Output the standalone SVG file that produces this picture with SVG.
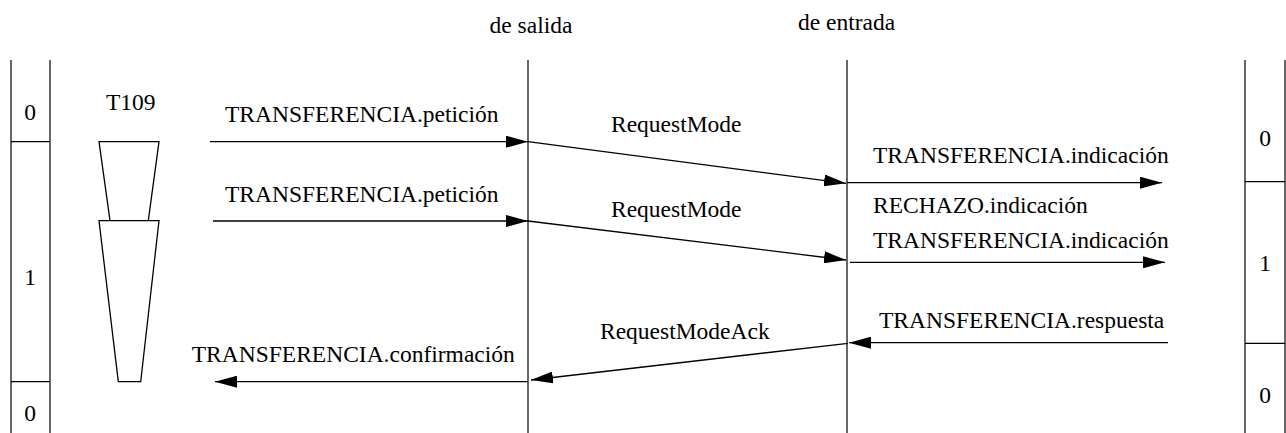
<svg xmlns="http://www.w3.org/2000/svg" width="1286" height="433" viewBox="0 0 1286 433">
<style>
text{font-family:"Times New Roman",Times,Tinos,"Noto Serif","Liberation Serif",serif;font-size:23.5px;fill:#000}
.ln{stroke:#000;stroke-width:1.2;fill:none}
.ar{stroke:#000;stroke-width:1.3;fill:none;marker-end:url(#ah)}
.tz{stroke:#000;stroke-width:1.3;fill:#fff}
</style>
<defs>
<marker id="ah" markerUnits="userSpaceOnUse" markerWidth="23" markerHeight="12" refX="22" refY="6" orient="auto">
<path d="M0,0 L22,6 L0,12 Z" fill="#000"/>
</marker>
</defs>
<rect width="1286" height="433" fill="#fff"/>
<g id="stateLeft">
<line class="ln" x1="11" y1="60" x2="11" y2="433"/>
<line class="ln" x1="50" y1="60" x2="50" y2="433"/>
<line class="ln" x1="11" y1="141.7" x2="50" y2="141.7"/>
<line class="ln" x1="11" y1="381.7" x2="50" y2="381.7"/>
<text x="30" y="119.7" text-anchor="middle">0</text>
<text x="30" y="284.7" text-anchor="middle">1</text>
<text x="30" y="421" text-anchor="middle">0</text>
</g>
<g id="timer">
<text x="106" y="110">T109</text>
<polygon class="tz" points="99,141.7 159,141.7 148.3,220.7 110,220.7"/>
<polygon class="tz" points="99,220.7 159,220.7 140.7,381.7 118.3,381.7"/>
</g>
<g id="lifelineOut">
<text x="489.5" y="33">de salida</text>
<line class="ln" x1="528" y1="60" x2="528" y2="433"/>
</g>
<g id="lifelineIn">
<text x="798" y="30">de entrada</text>
<line class="ln" x1="847" y1="60" x2="847" y2="433"/>
</g>
<g id="stateRight">
<line class="ln" x1="1245" y1="60" x2="1245" y2="433"/>
<line class="ln" x1="1285" y1="60" x2="1285" y2="433"/>
<line class="ln" x1="1245" y1="181.7" x2="1285" y2="181.7"/>
<line class="ln" x1="1245" y1="343.3" x2="1285" y2="343.3"/>
<text x="1265" y="146" text-anchor="middle">0</text>
<text x="1265" y="271" text-anchor="middle">1</text>
<text x="1265" y="403" text-anchor="middle">0</text>
</g>
<g id="connectors">
<line class="ar" x1="210" y1="141.7" x2="528" y2="141.7"/>
<line class="ar" x1="213" y1="221" x2="528" y2="221"/>
<line class="ar" x1="528" y1="141.7" x2="846" y2="183.3"/>
<line class="ar" x1="528" y1="221" x2="846" y2="260"/>
<line class="ar" x1="847" y1="182.7" x2="1162" y2="182.7"/>
<line class="ar" x1="850" y1="262.3" x2="1165" y2="262.3"/>
<line class="ar" x1="1168" y1="342.7" x2="849" y2="342.7"/>
<line class="ar" x1="848" y1="343.3" x2="531" y2="380"/>
<line class="ar" x1="528" y1="381.7" x2="215" y2="381.7"/>
</g>
<g id="labels">
<text x="225" y="121.7">TRANSFERENCIA.petición</text>
<text x="225" y="201.7">TRANSFERENCIA.petición</text>
<text x="611" y="131.7">RequestMode</text>
<text x="611" y="216.7">RequestMode</text>
<text x="873" y="163.3">TRANSFERENCIA.indicación</text>
<text x="873" y="212.7">RECHAZO.indicación</text>
<text x="873" y="247.7">TRANSFERENCIA.indicación</text>
<text x="879" y="328.3">TRANSFERENCIA.respuesta</text>
<text x="600" y="339.3">RequestModeAck</text>
<text x="191.7" y="361.7">TRANSFERENCIA.confirmación</text>
</g>
</svg>
